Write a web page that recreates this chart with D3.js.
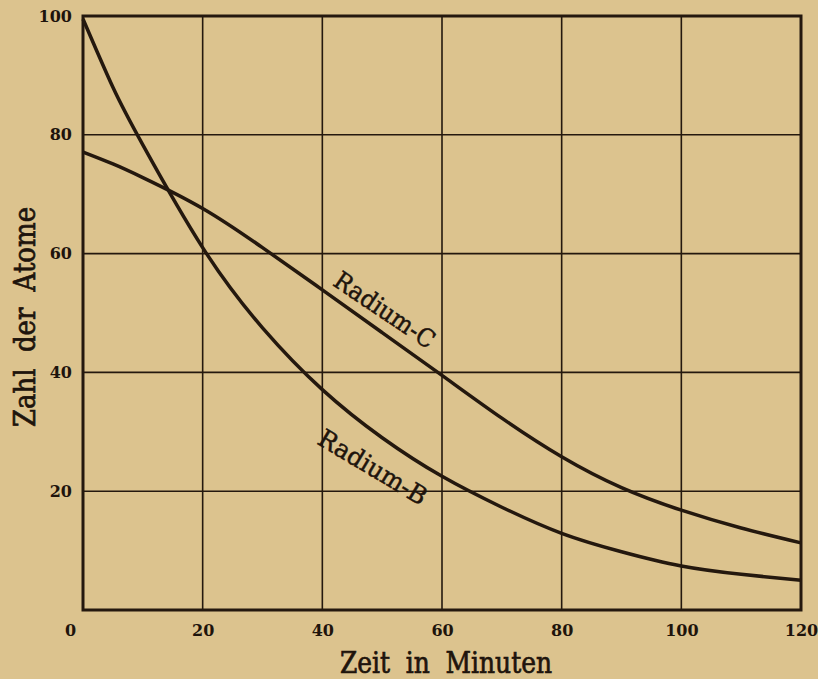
<!DOCTYPE html>
<html>
<head>
<meta charset="utf-8">
<script src="https://cdn.jsdelivr.net/npm/d3@7"></script>
<style>
	body { margin: 0; background: #dcc38e; }
	svg { display: block; }
	text { font-family: "DejaVu Serif", "Liberation Serif", serif; fill: #1e140c; }
</style>
</head>
<body>
<svg id="chart"></svg>
<script>
// Minuten
const zeit = [0, 5, 10, 20, 30, 40, 50, 60, 70, 80, 90, 100, 110, 120];
// Zahl der Atome
const radiumB = [99.5, 88, 78.3, 61, 47.5, 37.1, 29, 22.5, 17.3, 12.9, 9.8, 7.4, 6.0, 5.0];
const radiumC = [77.1, 75.1, 72.8, 67.6, 61, 53.9, 46.7, 39.5, 32.3, 25.8, 20.6, 16.8, 13.8, 11.3];
const xTicks = [0, 20, 40, 60, 80, 100, 120];
const yTicks = [20, 40, 60, 80, 100];

const width = 818, height = 679;
const margin = {top: 16, right: 17, bottom: 69, left: 83};
const ink = "#24180e";

let svg = d3.select("#chart").attr("width", width).attr("height", height);

let x = d3.scaleLinear().domain([0, 120]).range([margin.left, width - margin.right]);
let y = d3.scaleLinear().domain([0, 100]).range([height - margin.bottom, margin.top]);

// grid
svg.append("g").selectAll("line").data(xTicks.slice(1, -1)).join("line")
	.attr("x1", d => x(d)).attr("x2", d => x(d))
	.attr("y1", y(0)).attr("y2", y(100))
	.attr("stroke", ink).attr("stroke-width", 1.6);
svg.append("g").selectAll("line").data(yTicks.slice(0, -1)).join("line")
	.attr("x1", x(0)).attr("x2", x(120))
	.attr("y1", d => y(d)).attr("y2", d => y(d))
	.attr("stroke", ink).attr("stroke-width", 1.6);

// frame
svg.append("rect")
	.attr("x", x(0)).attr("y", y(100))
	.attr("width", x(120) - x(0)).attr("height", y(0) - y(100))
	.attr("fill", "none").attr("stroke", ink).attr("stroke-width", 3);

// axes, only for the labels
let xAxis = svg.append("g")
	.attr("transform", `translate(0,${y(0)})`)
	.call(d3.axisBottom(x).tickValues(xTicks).tickSize(0).tickPadding(15));
xAxis.select(".domain").remove();
xAxis.selectAll("text").attr("font-size", 16).attr("font-weight", "bold").attr("font-family", null)
	.attr("dx", d => d === 0 ? -13 : 0);

let yAxis = svg.append("g")
	.attr("transform", `translate(${x(0)},0)`)
	.call(d3.axisLeft(y).tickValues(yTicks).tickSize(0).tickPadding(11));
yAxis.select(".domain").remove();
yAxis.selectAll("text").attr("font-size", 16).attr("font-weight", "bold").attr("font-family", null);

// curves
let line = d3.line()
	.x((d, i) => x(zeit[i]))
	.y(d => y(d))
	.curve(d3.curveNatural);

svg.append("path").datum(radiumB)
	.attr("d", line).attr("fill", "none")
	.attr("stroke", ink).attr("stroke-width", 3.5);
svg.append("path").datum(radiumC)
	.attr("d", line).attr("fill", "none")
	.attr("stroke", ink).attr("stroke-width", 3.5);

// labels on the curves
svg.append("text")
	.attr("transform", `translate(${x(49.6)},${y(49.3)}) rotate(34)`)
	.attr("text-anchor", "middle").attr("font-size", 25)
	.attr("font-family", "Liberation Serif")
	.attr("stroke", "#1e140c").attr("stroke-width", 0.5)
	.attr("textLength", 116).attr("lengthAdjust", "spacingAndGlyphs")
	.text("Radium-C");
svg.append("text")
	.attr("transform", `translate(${x(47.7)},${y(22.8)}) rotate(31)`)
	.attr("text-anchor", "middle").attr("font-size", 25)
	.attr("font-family", "Liberation Serif")
	.attr("stroke", "#1e140c").attr("stroke-width", 0.5)
	.attr("textLength", 122).attr("lengthAdjust", "spacingAndGlyphs")
	.text("Radium-B");

// axis titles
svg.append("text")
	.attr("x", 446).attr("y", 673)
	.attr("text-anchor", "middle").attr("font-size", 29)
	.attr("font-family", "Liberation Serif").attr("word-spacing", 9)
	.attr("stroke", "#1e140c").attr("stroke-width", 0.7)
	.attr("textLength", 212).attr("lengthAdjust", "spacingAndGlyphs")
	.text("Zeit in Minuten");
svg.append("text")
	.attr("transform", `translate(35,317) rotate(-90)`)
	.attr("text-anchor", "middle").attr("font-size", 29)
	.attr("font-family", "Liberation Serif").attr("word-spacing", 9)
	.attr("stroke", "#1e140c").attr("stroke-width", 0.7)
	.attr("textLength", 220).attr("lengthAdjust", "spacingAndGlyphs")
	.text("Zahl der Atome");
</script>
</body>
</html>
